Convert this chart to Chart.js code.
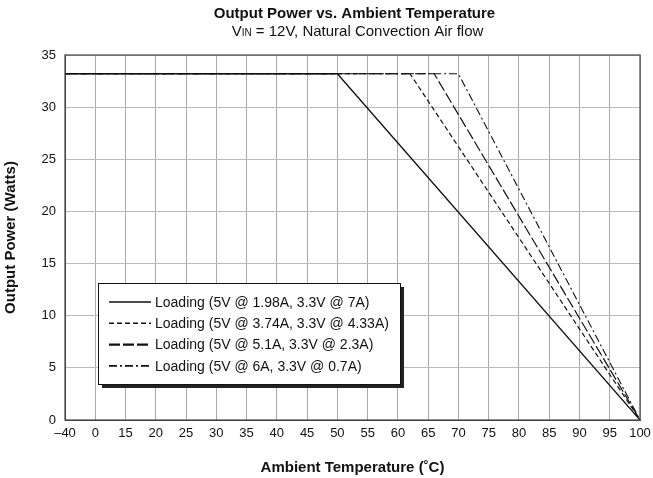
<!DOCTYPE html>
<html>
<head>
<meta charset="utf-8">
<script src="https://cdn.jsdelivr.net/npm/chart.js@4.4.1/dist/chart.umd.min.js"></script>
<style>
  html, body { margin: 0; padding: 0; background: #fff; }
</style>
</head>
<body>
<canvas id="chart" width="653" height="478"></canvas>
<script>
// tick labels on the temperature axis (evenly spaced, not to scale)
const tempTicks = [-40, 0, 15, 20, 25, 30, 35, 40, 45, 50, 55, 60, 65, 70, 75, 80, 85, 90, 95, 100];

const names = [
  'Loading (5V @ 1.98A, 3.3V @ 7A)',
  'Loading (5V @ 3.74A, 3.3V @ 4.33A)',
  'Loading (5V @ 5.1A, 3.3V @ 2.3A)',
  'Loading (5V @ 6A, 3.3V @ 0.7A)'
];

const temps1 = [-40, 50, 100];
const power1 = [33.2, 33.2, 0];
const temps2 = [-40, 62, 100];
const power2 = [33.2, 33.2, 0];
const temps3 = [-40, 66, 100];
const power3 = [33.2, 33.2, 0];
const temps4 = [-40, 70, 100];
const power4 = [33.2, 33.2, 0];

const dashes = [[], [5, 3], [11, 3], [8, 3, 2, 3]];
const widths = [1.3, 1.2, 1.2, 1.1];

// temperature -> position along the evenly spaced tick axis
function tickPos(t) {
  for (let i = 0; i < tempTicks.length - 1; i++) {
    if (t <= tempTicks[i + 1]) {
      return i + (t - tempTicks[i]) / (tempTicks[i + 1] - tempTicks[i]);
    }
  }
  return tempTicks.length - 1;
}

function pts(temps, power) {
  return temps.map((t, i) => ({ x: tickPos(t), y: power[i] }));
}

const allTemps = [temps1, temps2, temps3, temps4];
const allPower = [power1, power2, power3, power4];

const datasets = names.map((n, i) => ({
  label: n,
  data: pts(allTemps[i], allPower[i]),
  borderColor: '#111',
  borderWidth: widths[i],
  borderDash: dashes[i],
  pointRadius: 0,
  fill: false,
  tension: 0
}));

const FONT = "'Liberation Sans', Arial, sans-serif";

const headerPlugin = {
  id: 'header',
  afterDraw(chart) {
    const ctx = chart.ctx;
    const a = chart.chartArea;
    const cx = (a.left + a.right) / 2 + 2;
    ctx.save();
    ctx.fillStyle = '#111';
    ctx.textBaseline = 'alphabetic';
    ctx.textAlign = 'center';
    ctx.font = 'bold 15px ' + FONT;
    ctx.fillText('Output Power vs. Ambient Temperature', cx, 18);

    // subtitle with small "IN"
    const p1 = 'V', p2 = 'IN', p3 = ' = 12V, Natural Convection Air flow';
    ctx.font = '15px ' + FONT;
    const w1 = ctx.measureText(p1).width;
    const w3 = ctx.measureText(p3).width;
    ctx.font = '10px ' + FONT;
    const w2 = ctx.measureText(p2).width;
    let x = cx + 3 - (w1 + w2 + w3) / 2;
    ctx.textAlign = 'left';
    ctx.font = '15px ' + FONT;
    ctx.fillText(p1, x, 36);
    x += w1;
    ctx.font = '10px ' + FONT;
    ctx.fillText(p2, x, 36);
    x += w2;
    ctx.font = '15px ' + FONT;
    ctx.fillText(p3, x, 36);

    // frame
    ctx.strokeStyle = '#444';
    ctx.lineWidth = 1.2;
    ctx.strokeRect(a.left, a.top, a.right - a.left, a.bottom - a.top);

    // legend box with shadow
    const bx = 98, by = 283, bw = 302, bh = 101;
    ctx.fillStyle = '#222';
    ctx.fillRect(bx + 4, by + 4, bw, bh);
    ctx.fillStyle = '#fff';
    ctx.fillRect(bx, by, bw, bh);
    ctx.strokeStyle = '#111';
    ctx.lineWidth = 1;
    ctx.strokeRect(bx + 0.5, by + 0.5, bw, bh);

    ctx.font = '14px ' + FONT;
    ctx.textBaseline = 'middle';
    chart.data.datasets.forEach((ds, i) => {
      const y = by + 19 + i * 21.3;
      ctx.beginPath();
      ctx.setLineDash(ds.borderDash);
      ctx.lineWidth = i === 2 ? 2.4 : 1.6;
      ctx.strokeStyle = '#111';
      ctx.moveTo(109, y);
      ctx.lineTo(151, y);
      ctx.stroke();
      ctx.setLineDash([]);
      ctx.fillStyle = '#111';
      ctx.fillText(ds.label, 155, y + 1);
    });
    ctx.restore();
  }
};

new Chart(document.getElementById('chart'), {
  type: 'line',
  data: { datasets: datasets },
  options: {
    responsive: false,
    animation: false,
    layout: { padding: { top: 55, right: 13, left: 0, bottom: 0 } },
    plugins: {
      legend: { display: false },
      title: { display: false },
      tooltip: { enabled: false }
    },
    scales: {
      x: {
        type: 'linear',
        min: 0,
        max: tempTicks.length - 1,
        afterFit: s => { s.height = 58; s.paddingLeft = 0; s.paddingRight = 0; },
        afterBuildTicks: s => { s.ticks = tempTicks.map((t, i) => ({ value: i })); },
        ticks: {
          autoSkip: false,
          maxRotation: 0,
          padding: 6,
          color: '#111',
          font: { family: FONT, size: 13 },
          callback: v => {
            const t = tempTicks[v];
            return t < 0 ? '\u2013' + Math.abs(t) : String(t);
          }
        },
        grid: { color: '#aaa', lineWidth: 1, drawTicks: false },
        border: { color: '#444' },
        title: {
          display: true,
          text: 'Ambient Temperature (\u02daC)',
          color: '#111',
          font: { family: FONT, size: 15, weight: 'bold' },
          padding: { top: 0, bottom: 1 }
        }
      },
      y: {
        min: 0,
        max: 35,
        afterFit: s => { s.width = 65; },
        ticks: {
          stepSize: 5,
          padding: 9,
          color: '#111',
          font: { family: FONT, size: 13 }
        },
        grid: { color: '#bbb', lineWidth: 1, drawTicks: false },
        border: { color: '#444' },
        title: {
          display: true,
          text: 'Output Power (Watts)',
          color: '#111',
          font: { family: FONT, size: 15, weight: 'bold' },
          padding: { top: 2, bottom: 0 }
        }
      }
    }
  },
  plugins: [headerPlugin]
});
</script>
</body>
</html>
